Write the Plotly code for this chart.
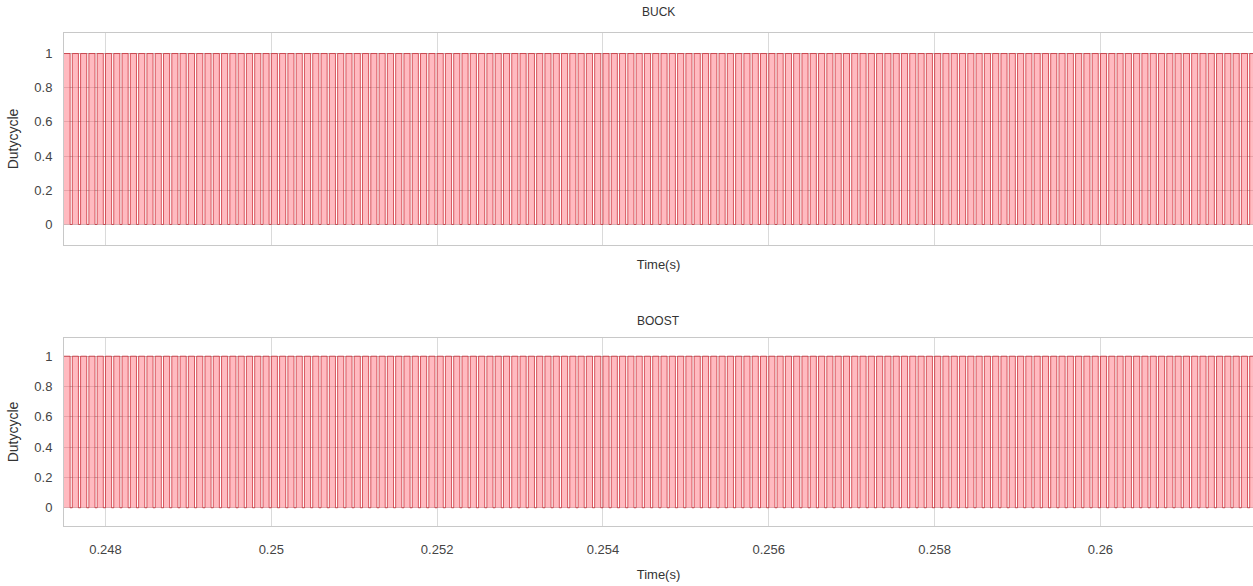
import numpy as np
import plotly.graph_objects as go

# ---- data ----
t_start = 0.2475          # s, first sample shown
t_end = 0.26184           # s, last sample shown (right edge of picture)
switch_period = 1e-4      # s, PWM switching period (~10 kHz)
buck_duty = 0.74          # fraction of each period the BUCK switch is on
boost_duty = 0.74         # fraction of each period the BOOST switch is on
x_ticks = [0.248, 0.25, 0.252, 0.254, 0.256, 0.258, 0.26]
x_tick_labels = ["0.248", "0.25", "0.252", "0.254", "0.256", "0.258", "0.26"]
y_ticks = [0, 0.2, 0.4, 0.6, 0.8, 1]
y_tick_labels = ["0", "0.2", "0.4", "0.6", "0.8", "1"]
titles = ["BUCK", "BOOST"]


def pwm(duty):
    n = int(np.ceil((t_end - t_start) / switch_period))
    t, y = [], []
    for k in range(n):
        t0 = t_start + k * switch_period
        t += [t0, t0 + duty * switch_period]
        y += [1, 0]
    t.append(t_end)
    y.append(y[-1])
    return t, y


W, H = 1253, 586
FONT = "Arial, Liberation Sans, sans-serif"

fig = go.Figure()
tb, yb = pwm(buck_duty)
to, yo = pwm(boost_duty)
for t, y, ax in [(tb, yb, "1"), (to, yo, "2")]:
    fig.add_trace(go.Scatter(
        x=t, y=y, mode="lines", line=dict(shape="hv", color="rgba(200,30,40,0.7)", width=1),
        fill="tozeroy", fillcolor="rgba(255,140,150,0.6)",
        xaxis="x" if ax == "1" else "x2", yaxis="y" if ax == "1" else "y2",
        showlegend=False, hoverinfo="skip"))

L = 64
top_dom = [1 - 245 / H, 1 - 33 / H]
bot_dom = [1 - 526 / H, 1 - 338 / H]

axis_common = dict(
    range=[t_start, t_end], tickvals=x_ticks, ticktext=x_tick_labels,
    showgrid=True, gridcolor="rgba(150,150,150,0.35)", gridwidth=1,
    showline=True, linecolor="#c8c8c8", linewidth=1, mirror=True,
    ticks="", zeroline=False, ticklabelstandoff=11,
    tickfont=dict(family=FONT, size=13, color="#444"),
    title=dict(text="Time(s)", font=dict(family=FONT, size=13, color="#333"), standoff=14),
)
yaxis_common = dict(
    range=[-0.12, 1.12], tickvals=y_ticks, ticktext=y_tick_labels,
    showgrid=True, gridcolor="rgba(120,120,120,0.45)", gridwidth=1,
    showline=True, linecolor="#c8c8c8", linewidth=1, mirror=False,
    ticks="", zeroline=False, ticklabelstandoff=8,
    tickfont=dict(family=FONT, size=13, color="#444"),
    title=dict(text="Dutycycle", font=dict(family=FONT, size=14, color="#333"), standoff=12),
)

fig.update_layout(
    width=W, height=H,
    margin=dict(l=L, r=0, t=0, b=0),
    paper_bgcolor="white", plot_bgcolor="white",
    xaxis=dict(domain=[0, 1], anchor="y", showticklabels=False, **axis_common),
    yaxis=dict(domain=top_dom, anchor="x", **yaxis_common),
    xaxis2=dict(domain=[0, 1], anchor="y2", showticklabels=True, **axis_common),
    yaxis2=dict(domain=bot_dom, anchor="x2", **yaxis_common),
    annotations=[
        dict(text=titles[0], x=0.5, y=top_dom[1], xref="paper", yref="paper",
             xanchor="center", yanchor="bottom", yshift=12, showarrow=False,
             font=dict(family=FONT, size=12, color="#333")),
        dict(text=titles[1], x=0.5, y=bot_dom[1], xref="paper", yref="paper",
             xanchor="center", yanchor="bottom", yshift=8, showarrow=False,
             font=dict(family=FONT, size=12, color="#333")),
    ],
)

fig.write_html("out.html")
